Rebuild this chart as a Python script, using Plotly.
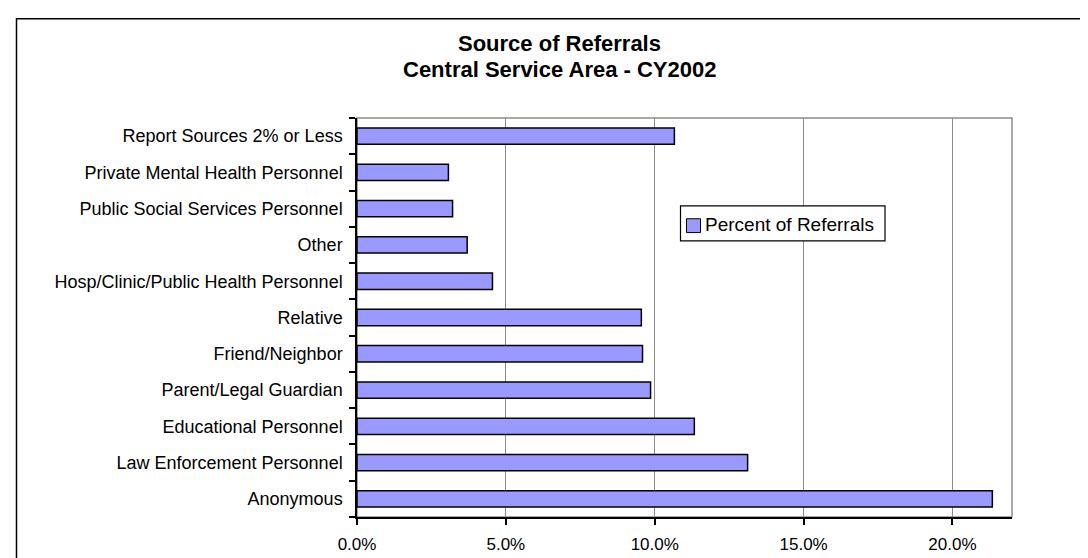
import plotly.graph_objects as go

# Data (bottom to top as drawn)
categories = [
    "Anonymous",
    "Law Enforcement Personnel",
    "Educational Personnel",
    "Parent/Legal Guardian",
    "Friend/Neighbor",
    "Relative",
    "Hosp/Clinic/Public Health Personnel",
    "Other",
    "Public Social Services Personnel",
    "Private Mental Health Personnel",
    "Report Sources 2% or Less",
]
percent_of_referrals = [0.2134, 0.1312, 0.1133, 0.0986, 0.0959, 0.0955,
                        0.0455, 0.0370, 0.0321, 0.0307, 0.1066]
series_name = "Percent of Referrals"
x_tick_values = [0.0, 0.05, 0.10, 0.15, 0.20]
title_lines = ["Source of Referrals", "Central Service Area - CY2002"]

W, H = 1088, 558
L, R, T, B = 349, 84, 110, 44
pw, ph = W - L - R, H - T - B

FONT = "Liberation Sans, Arial, sans-serif"
BAR_COLOR = "#9999FF"


def px_x(px):
    return (px - L) / pw


def px_y(py):
    return (H - B - py) / ph


fig = go.Figure()
fig.add_trace(go.Bar(
    y=categories,
    x=percent_of_referrals,
    orientation="h",
    name=series_name,
    marker=dict(color=BAR_COLOR, line=dict(color="#000000", width=1.5)),
    showlegend=False,
))

shapes = [
    # outer chart frame
    dict(type="rect", xref="paper", yref="paper",
         x0=px_x(8.5), x1=px_x(1082), y0=px_y(580), y1=px_y(9.5),
         line=dict(color="#000000", width=1.5), fillcolor="rgba(0,0,0,0)", layer="below"),
    # plot area border (gray)
    dict(type="rect", xref="paper", yref="paper", x0=0, x1=1, y0=0, y1=1,
         line=dict(color="#8c8c8c", width=1.5), fillcolor="rgba(0,0,0,0)", layer="below"),
    # legend box
    dict(type="rect", xref="paper", yref="paper",
         x0=px_x(672.5), x1=px_x(877), y0=px_y(234.5), y1=px_y(199),
         line=dict(color="#000000", width=1.2), fillcolor="white", layer="above"),
    # legend symbol
    dict(type="rect", xref="paper", yref="paper",
         x0=px_x(678.5), x1=px_x(692.5), y0=px_y(226), y1=px_y(212),
         line=dict(color="#000000", width=1), fillcolor=BAR_COLOR, layer="above"),
]

annotations = [
    dict(text="<b>%s</b>" % title_lines[0], xref="paper", yref="paper",
         x=px_x(551), y=px_y(35), xanchor="center", yanchor="middle",
         showarrow=False, font=dict(family=FONT, size=22, color="#000000")),
    dict(text="<b>%s</b>" % title_lines[1], xref="paper", yref="paper",
         x=px_x(551), y=px_y(61), xanchor="center", yanchor="middle",
         showarrow=False, font=dict(family=FONT, size=22, color="#000000")),
    dict(text=series_name, xref="paper", yref="paper",
         x=px_x(695), y=px_y(218), xanchor="left", yanchor="middle",
         showarrow=False, font=dict(family=FONT, size=19, color="#000000")),
]

fig.update_layout(
    width=W, height=H,
    margin=dict(l=L, r=R, t=T, b=B, pad=0),
    paper_bgcolor="white",
    plot_bgcolor="white",
    font=dict(family=FONT, size=17, color="#000000"),
    bargap=0.55,
    showlegend=False,
    shapes=shapes,
    annotations=annotations,
)

fig.update_xaxes(
    range=[0, 0.22],
    tickvals=x_tick_values,
    tickformat=".1%",
    showgrid=True, gridcolor="#8c8c8c", gridwidth=1,
    showline=True, linecolor="#000000", linewidth=1.5,
    ticks="outside", ticklen=6, tickcolor="#000000", tickwidth=1.5,
    ticklabelstandoff=5,
    zeroline=False,
    tickfont=dict(family=FONT, size=17, color="#000000"),
)
fig.update_yaxes(
    type="category",
    categoryorder="array", categoryarray=categories,
    showgrid=False,
    showline=True, linecolor="#000000", linewidth=1.5,
    ticks="outside", ticklen=6, tickcolor="#000000", tickwidth=1.5,
    tickson="boundaries",
    ticklabelstandoff=9,
    tickfont=dict(family=FONT, size=18, color="#000000"),
)

fig.write_html("out.html")
